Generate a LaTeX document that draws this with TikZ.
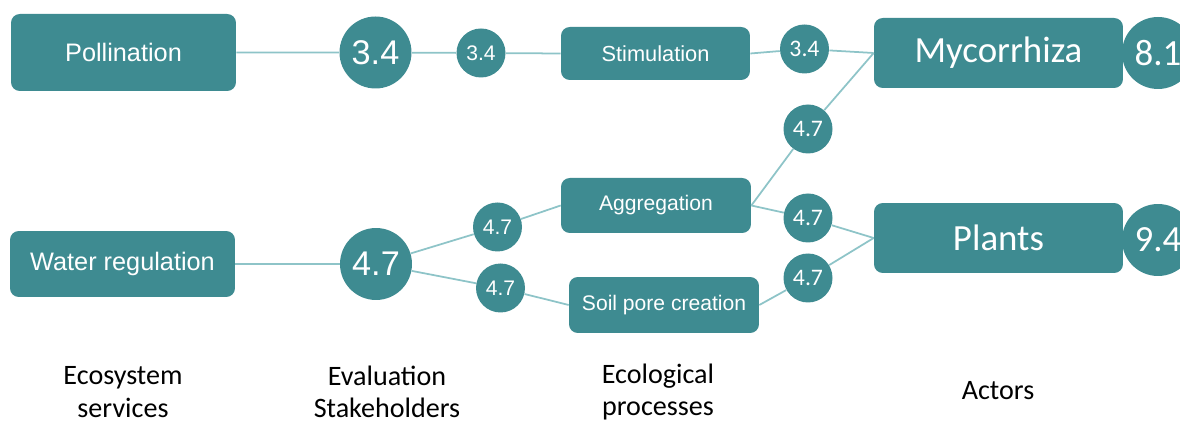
\documentclass[tikz,border=0pt]{standalone}
\usepackage{fontspec}
\usepackage{xcolor}
\usepackage{tikz}

\newfontfamily\arial{Liberation Sans}
\newfontfamily\calibri{Carlito}
\definecolor{boxteal}{RGB}{62,139,145}
\definecolor{linkteal}{RGB}{142,196,200}

\begin{document}
\begin{tikzpicture}[x=0.02cm, y=-0.02cm,
  box/.style={fill=boxteal, text=white, rounded corners=5pt, inner sep=0pt},
  num/.style={circle, fill=boxteal, text=white, inner sep=0pt},
  bignum/.style={num, minimum size=1.44cm, font=\arial\fontsize{19.5}{22}\selectfont},
  smallnum/.style={num, minimum size=0.98cm, font=\arial\fontsize{12}{14}\selectfont},
  rightnum/.style={num, minimum size=0.98cm, font=\calibri\fontsize{13.5}{15}\selectfont},
  link/.style={linkteal, line width=1pt},
  caption/.style={align=center, font=\calibri\fontsize{16}{18.5}\selectfont}]
\useasboundingbox (0,0) rectangle (1180,421);

% Ecosystem services
\node[box, minimum width=4.5cm, minimum height=1.54cm, font=\arial\fontsize{14.4}{16}\selectfont] (poll) at (123.5,52.5) {Pollination};
\node[box, minimum width=4.5cm, minimum height=1.32cm, font=\arial\fontsize{14.4}{16}\selectfont] (water) at (122.5,264) {Water regulation};

% Stakeholder evaluation
\node[bignum] (evpoll) at (375.5,52.5) {3.4};
\node[bignum] (evwater) at (376,264) {4.7};

% Ecological processes
\node[box, minimum width=3.78cm, minimum height=1.06cm, font=\arial\fontsize{12.4}{14}\selectfont] (stim) at (655.5,53.5) {Stimulation};
\node[box, minimum width=3.8cm, minimum height=1.1cm, font=\arial\fontsize{12}{14}\selectfont] (aggr) at (656,205.5) {Aggregation};
\node[box, minimum width=3.8cm, minimum height=1.12cm, font=\arial\fontsize{12}{14}\selectfont] (pore) at (664,305) {Soil pore creation};

% Actors
\node[box, minimum width=4.98cm, minimum height=1.4cm, font=\calibri\fontsize{21}{24}\selectfont] (myco) at (998.5,53) {Mycorrhiza};
\node[box, minimum width=4.98cm, minimum height=1.4cm, font=\calibri\fontsize{21}{24}\selectfont] (plant) at (998.5,238) {Plants};
\node[num, minimum size=1.44cm, font=\calibri\fontsize{21}{24}\selectfont] (scmyco) at (1158,53) {8.1};
\node[num, minimum size=1.44cm, font=\calibri\fontsize{21}{24}\selectfont] (scplant) at (1158,240) {9.4};

% Scores on the links
\node[smallnum] (wstim) at (481,53) {3.4};
\node[smallnum] (waggr) at (497.5,227) {4.7};
\node[smallnum] (wpore) at (500.5,288) {4.7};
\node[rightnum] (stimmyco) at (804.5,49) {3.4};
\node[rightnum] (aggrmyco) at (808,129) {4.7};
\node[rightnum] (aggrplant) at (808,218) {4.7};
\node[rightnum] (poreplant) at (808,278) {4.7};

% Links
\draw[link] (poll.east) -- (evpoll) -- (wstim) -- (stim.west);
\draw[link] (water.east) -- (evwater);
\draw[link] (evwater) -- (waggr) -- (aggr.west);
\draw[link] (evwater) -- (wpore) -- (pore.west);
\draw[link] (stim.east) -- (stimmyco) -- (myco.west);
\draw[link] (aggr.east) -- (aggrmyco) -- (myco.west);
\draw[link] (aggr.east) -- (aggrplant) -- (plant.west);
\draw[link] (pore.east) -- (poreplant) -- (plant.west);

% Column captions
\node[caption] (capserv) at (123,392) {Ecosystem\\services};
\node[caption] (capeval) at (387,392) {Evaluation\\Stakeholders};
\node[caption] (capproc) at (658,392) {Ecological\\processes};
\node[caption] (capact) at (998,391) {Actors};

\end{tikzpicture}
\end{document}
